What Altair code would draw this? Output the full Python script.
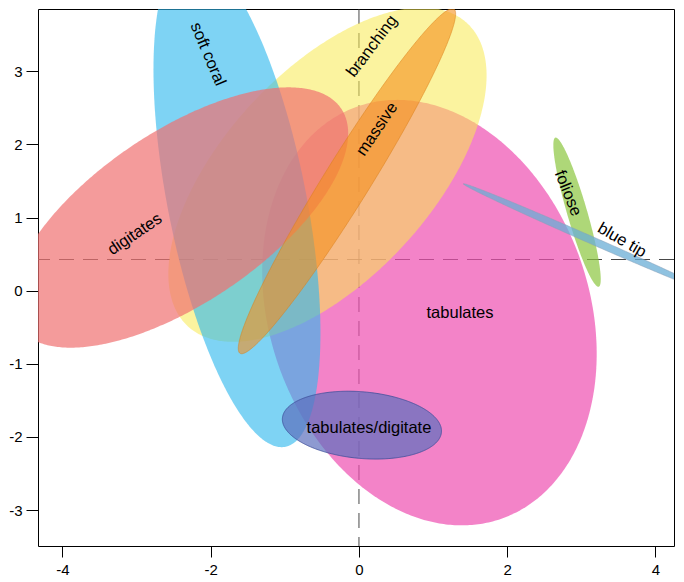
import altair as alt
import numpy as np
import pandas as pd

# ellipse groups, drawn in this order (later ones on top)
groups = ["tabulates", "branching", "soft coral", "digitates", "massive",
          "tabulates/digitate", "foliose", "blue tip"]
center_x = [0.951, -0.425, -1.646, -2.42, -0.162, 0.04, 2.942, 3.10]
center_y = [-0.30, 1.585, 1.223, 1.00, 1.497, -1.838, 1.073, 0.707]
semi_a = [2.98, 2.80, 3.42, 2.64, 2.76, 1.077, 1.06, 1.85]
semi_b = [2.16, 1.41, 0.935, 1.17, 0.31, 0.455, 0.135, 0.05]
angle_deg = [-71.5, 48.0, -79.0, 34.5, 58.5, -5.2, -74.0, -24.0]
fills = ["#EE4FB0", "#F7EA50", "#2EB8EE", "#F07070", "#F5901E",
         "#5C6FBE", "#8CC63F", "#6AAED6"]
fill_opacity = [0.7, 0.55, 0.62, 0.7, 0.6, 0.7, 0.7, 0.75]
strokes = ["", "", "", "", "#D9801A", "#3F4F9A", "", "#8AA0B8"]
stroke_opacity = [0.0, 0.0, 0.0, 0.0, 0.5, 0.8, 0.0, 0.5]

# labels
label_text = ["digitates", "soft coral", "branching", "massive", "tabulates",
              "tabulates/digitate", "foliose", "blue tip"]
label_x = [-3.023, -2.038, 0.175, 0.243, 1.363, 0.135, 2.82, 3.549]
label_y = [0.772, 3.232, 3.342, 2.207, -0.307, -1.879, 1.333, 0.690]
label_angle = [326, 67, 307, 304, 0, 0, 68, 30]

# reference lines
ref_x = [0.0]
ref_y = [0.426]

x_ticks = [-4, -2, 0, 2, 4]
y_ticks = [-3, -2, -1, 0, 1, 2, 3]
x_domain = [-4.33, 4.25]
y_domain = [-3.49, 3.85]

FONT = "Liberation Sans"


def ellipse_band(cx, cy, a, b, deg, n=240):
    t = np.radians(deg)
    c, s = np.cos(t), np.sin(t)
    ext = np.sqrt(a * a * c * c + b * b * s * s)
    phi = np.linspace(0, np.pi, n)
    dx = -ext * np.cos(phi)
    A = s * s / a ** 2 + c * c / b ** 2
    B = 2 * dx * c * s * (1 / a ** 2 - 1 / b ** 2)
    C = dx ** 2 * (c * c / a ** 2 + s * s / b ** 2) - 1
    disc = np.clip(B * B - 4 * A * C, 0, None)
    lo = (-B - np.sqrt(disc)) / (2 * A)
    hi = (-B + np.sqrt(disc)) / (2 * A)
    return pd.DataFrame({"x": cx + dx, "ylo": cy + lo, "yhi": cy + hi})


xs = alt.Scale(domain=x_domain, nice=False, zero=False)
ys = alt.Scale(domain=y_domain, nice=False, zero=False)
axis_common = dict(title=None, grid=False, domain=False,
                   labelFontSize=15, labelFont=FONT,
                   labelColor="black", tickColor="black",
                   labelExpr="toString(datum.value)")
x_axis = alt.Axis(values=x_ticks, tickSize=11, labelPadding=5, **axis_common)
y_axis = alt.Axis(values=y_ticks, tickSize=12, labelPadding=4, **axis_common)

layers = []

hline = alt.Chart(pd.DataFrame({"y": ref_y})).mark_rule(
    color="#333333", strokeWidth=1, strokeDash=[15, 9], opacity=0.9
).encode(y=alt.Y("y:Q", scale=ys, axis=y_axis))
vline = alt.Chart(pd.DataFrame({"x": ref_x})).mark_rule(
    color="#333333", strokeWidth=1, strokeDash=[15, 9], opacity=0.9
).encode(x=alt.X("x:Q", scale=xs, axis=x_axis))
layers += [hline, vline]

for i, g in enumerate(groups):
    df = ellipse_band(center_x[i], center_y[i], semi_a[i], semi_b[i], angle_deg[i])
    props = dict(clip=True, fill=fills[i], fillOpacity=fill_opacity[i],
                 interpolate="linear")
    if strokes[i]:
        props.update(stroke=strokes[i], strokeOpacity=stroke_opacity[i],
                     strokeWidth=1)
    layer = alt.Chart(df).mark_area(**props).encode(
        x=alt.X("x:Q", scale=xs, axis=x_axis),
        y=alt.Y("yhi:Q", scale=ys, axis=y_axis, stack=None),
        y2="ylo:Q",
    )
    layers.append(layer)

labels = alt.Chart(pd.DataFrame({
    "text": label_text, "x": label_x, "y": label_y, "angle": label_angle
})).mark_text(
    font=FONT, fontSize=16.5, color="black", align="center", baseline="middle"
).encode(
    x=alt.X("x:Q", scale=xs, axis=x_axis),
    y=alt.Y("y:Q", scale=ys, axis=y_axis),
    text="text:N",
    angle=alt.Angle("angle:Q", scale=None),
)
layers.append(labels)

chart = alt.layer(*layers).properties(
    width=636, height=537, padding=0, background="white"
).configure_view(stroke="black", strokeWidth=1).configure_axis(
    labelFont=FONT
)

chart.save("out.html", embed_options={"renderer": "svg", "actions": False})
